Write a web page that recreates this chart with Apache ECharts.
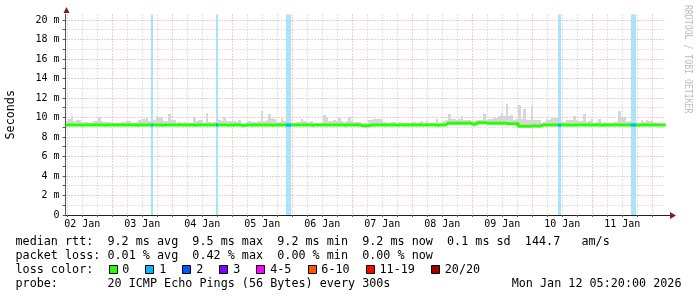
<!DOCTYPE html>
<html><head><meta charset="utf-8">
<script src="https://cdn.jsdelivr.net/npm/echarts@6/dist/echarts.min.js"></script>
<style>html,body{margin:0;padding:0;background:#fff}#c{width:697px;height:297px}</style>
</head><body><div id="c"></div>
<script>
// time axis in hours after 02 Jan 2026 00:00
const START_HOUR = 5 + 20 / 60;
const BINS = 240;
const END_HOUR = START_HOUR + BINS;
const Y_MAX = 20.564;

const dayLabels = ['02 Jan','03 Jan','04 Jan','05 Jan','06 Jan','07 Jan','08 Jan','09 Jan','10 Jan','11 Jan'];
const yLabelValues = [0,2,4,6,8,10,12,14,16,18,20];
const yLabels = ['0','2 m','4 m','6 m','8 m','10 m','12 m','14 m','16 m','18 m','20 m'];

// hourly smoke top (ms)
const smokeHi = [
 9.6,9.85,10.15,9.65,9.75,9.7,9.57,9.5,9.5,9.4,9.4,9.6,9.65,10.0,9.6,9.57,9.57,9.55,9.4,9.4,9.45,9.45,9.5,9.55,
 9.65,9.6,9.45,9.45,9.5,9.75,9.85,9.8,10.0,9.6,9.7,9.75,10.15,10.1,10.05,9.65,9.65,10.35,9.75,9.7,9.45,9.5,9.45,9.55,
 9.4,9.4,9.45,10.0,9.65,9.7,9.7,9.4,10.5,9.5,9.45,9.5,9.6,9.75,9.6,10.1,9.6,9.6,9.65,9.6,9.55,9.75,9.35,9.35,
 9.55,9.6,9.55,9.5,9.55,9.6,10.65,9.65,9.7,10.35,9.9,9.8,9.55,9.55,10.1,9.6,9.6,9.6,9.5,9.45,9.5,9.5,9.8,9.6,
 9.55,9.55,9.6,9.45,9.4,9.45,9.4,10.25,10.0,9.65,9.6,9.7,9.6,9.9,9.6,9.55,9.6,10.05,9.6,9.55,9.5,9.55,9.4,9.45,
 9.4,9.75,9.75,9.85,9.85,9.8,9.8,9.55,9.45,9.4,9.55,9.5,9.45,9.5,9.45,9.4,9.4,9.45,9.55,9.5,9.45,9.5,9.6,9.4,
 9.6,9.4,9.45,9.4,9.85,9.4,9.45,9.65,9.7,10.35,9.85,9.8,9.75,9.8,10.15,9.7,9.7,9.75,9.6,9.6,9.7,9.7,9.75,10.35,
 9.75,9.8,9.8,9.9,9.9,10.15,10.5,10.2,11.38,10.2,10.3,9.75,9.8,11.3,9.8,10.85,9.75,9.75,11.15,9.75,9.7,9.7,9.45,9.5,
 9.8,9.75,10.0,9.95,9.9,9.6,9.55,9.5,9.7,9.75,9.7,10.15,9.7,9.65,9.65,10.35,9.55,9.6,9.8,9.45,9.5,9.8,9.45,9.5,
 9.45,9.4,9.45,9.5,9.5,10.7,10.1,10.05,9.55,9.6,9.6,9.6,9.5,9.45,9.75,9.5,9.7,9.65,9.6,9.55,9.4,9.4,9.35,9.4
];
// hourly smoke bottom (ms)
const smokeLo = [
 9.12,9.12,9.1,9.12,9.12,9.1,9.12,9.12,9.12,9.1,9.12,9.12,9.12,9.1,9.12,9.12,9.12,9.12,9.1,9.12,9.12,9.12,9.1,9.12,
 9.12,9.1,9.12,9.12,9.12,9.12,9.1,9.12,9.12,9.1,9.12,9.12,9.12,9.12,9.1,9.12,9.12,9.12,9.1,9.12,9.12,9.12,9.12,9.1,
 9.12,9.12,9.1,9.12,9.12,9.12,9.1,9.12,9.12,9.12,9.1,9.12,9.12,9.12,9.1,9.12,9.12,9.12,9.12,9.1,9.12,9.12,9.0,9.02,
 9.1,9.12,9.05,9.12,9.12,9.1,9.12,9.12,9.12,9.1,9.12,9.12,9.12,9.12,9.1,9.12,9.12,9.12,9.12,9.1,9.12,9.12,9.12,9.1,
 9.12,9.12,9.1,9.12,9.12,9.12,9.1,9.12,9.12,9.12,9.12,9.1,9.12,9.12,9.12,9.1,9.12,9.12,9.12,9.12,9.1,9.12,9.05,9.05,
 9.05,9.12,9.12,9.1,9.12,9.12,9.12,9.1,9.12,9.12,9.12,9.12,9.1,9.12,9.12,9.12,9.1,9.12,9.12,9.12,9.12,9.1,9.12,9.12,
 9.12,9.12,9.1,9.12,9.12,9.12,9.1,9.12,9.3,9.32,9.32,9.3,9.32,9.32,9.3,9.32,9.32,9.3,9.2,9.22,9.32,9.32,9.3,9.32,
 9.32,9.3,9.32,9.32,9.3,9.32,9.32,9.3,9.25,9.25,9.25,9.25,9.28,9.0,9.0,8.98,9.0,9.0,9.02,9.05,9.05,9.05,9.12,9.1,
 9.12,9.12,9.1,9.12,9.12,9.12,9.1,9.12,9.12,9.12,9.12,9.1,9.12,9.12,9.12,9.1,9.12,9.12,9.12,9.12,9.1,9.12,9.12,9.12,
 9.1,9.12,9.12,9.12,9.12,9.1,9.12,9.12,9.12,9.1,9.12,9.12,9.12,9.12,9.1,9.12,9.12,9.12,9.12,9.1,9.12,9.12,9.12,9.1
];
// hourly median rtt (ms)
const median = [
 9.22,9.22,9.22,9.23,9.22,9.22,9.21,9.22,9.22,9.22,9.22,9.23,9.22,9.22,9.22,9.21,9.22,9.22,9.22,9.22,9.23,9.22,9.22,9.22,
 9.22,9.22,9.22,9.22,9.21,9.22,9.22,9.22,9.23,9.22,9.22,9.22,9.22,9.22,9.21,9.22,9.22,9.22,9.22,9.22,9.23,9.22,9.22,9.22,
 9.22,9.22,9.22,9.21,9.22,9.22,9.22,9.22,9.23,9.22,9.22,9.22,9.22,9.22,9.22,9.22,9.21,9.22,9.22,9.22,9.22,9.22,9.2,9.2,
 9.22,9.22,9.22,9.22,9.22,9.23,9.22,9.22,9.22,9.22,9.21,9.22,9.22,9.22,9.22,9.22,9.22,9.22,9.22,9.23,9.22,9.22,9.22,9.22,
 9.22,9.22,9.21,9.22,9.22,9.22,9.22,9.22,9.22,9.23,9.22,9.22,9.22,9.22,9.22,9.21,9.22,9.22,9.22,9.22,9.22,9.22,9.16,9.16,
 9.16,9.2,9.22,9.22,9.22,9.22,9.22,9.23,9.22,9.22,9.22,9.22,9.21,9.22,9.22,9.22,9.22,9.22,9.22,9.22,9.23,9.22,9.22,9.22,
 9.22,9.22,9.22,9.22,9.21,9.22,9.22,9.22,9.42,9.42,9.42,9.43,9.42,9.42,9.42,9.41,9.42,9.42,9.32,9.32,9.45,9.45,9.45,9.45,
 9.42,9.42,9.42,9.42,9.43,9.42,9.42,9.42,9.36,9.36,9.36,9.36,9.4,9.1,9.1,9.1,9.1,9.1,9.14,9.14,9.14,9.14,9.22,9.22,
 9.22,9.22,9.22,9.22,9.23,9.22,9.22,9.22,9.22,9.21,9.22,9.22,9.22,9.22,9.22,9.22,9.23,9.22,9.22,9.22,9.22,9.22,9.21,9.22,
 9.22,9.22,9.22,9.22,9.22,9.22,9.23,9.22,9.22,9.22,9.22,9.22,9.21,9.22,9.22,9.22,9.22,9.22,9.22,9.22,9.22,9.23,9.22,9.22
];
// hours (bin index) with packet loss, and number of lost pings of 20
const lossBins = [34, 60, 88, 89, 197, 226, 227];
const lossCounts = [1, 1, 1, 1, 1, 1, 1];

const lossLabels = ['0','1','2','3','4-5','6-10','11-19','20/20'];
const lossColors = ['#26ff00','#00b8ff','#0059ff','#7e00ff','#ff00ff','#ff5500','#ff0000','#a10000'];
const lossBgColors = ['#ffffff','#aae4f8','#a6c4fa','#cfa8fa','#fba8fb','#fbc2a8','#fba8a8','#deabab'];
const lossThresholds = [0,1,2,3,5,10,19,20];

const legendLine1 = 'median rtt:  9.2 ms avg  9.5 ms max  9.2 ms min  9.2 ms now  0.1 ms sd  144.7   am/s';
const legendLine2 = 'packet loss: 0.01 % avg  0.42 % max  0.00 % min  0.00 % now';
const legendLine3 = 'loss color:';
const legendLine4 = 'probe:       20 ICMP Echo Pings (56 Bytes) every 300s';
const legendDate = 'Mon Jan 12 05:20:00 2026';
const yAxisName = 'Seconds';
const watermark = 'RRDTOOL / TOBI OETIKER';

function lossIndex(c) { for (let k = 0; k < lossThresholds.length; k++) if (c <= lossThresholds[k]) return k; return 7; }

const MONO = "'DejaVu Sans Mono', monospace";
const FS = 11.75;
const CW = FS * 0.602;

const smokeData = smokeHi.map((h, i) => [START_HOUR + i, smokeLo[i], h]);
const medianData = median.map((m, i) => [START_HOUR + i, m]);
medianData.push([END_HOUR, median[median.length - 1]]);
const lossData = lossBins.map((b, k) => [START_HOUR + b, median[b], lossCounts[k]]);

const minorX = []; for (let h = 6; h <= 240; h += 6) minorX.push(h);
const labelX = dayLabels.map((d, k) => 12 + 24 * k);
const yTicks = []; for (let v = 0; v <= 20; v++) yTicks.push(v);

const chart = echarts.init(document.getElementById('c'), null, {renderer: 'canvas'});

const graphics = [];
const L_X = 15.5;
[[legendLine1, 241.5], [legendLine2, 255.5], [legendLine3, 269.5], [legendLine4, 283.5]].forEach(([t, y]) => {
  graphics.push({type: 'text', x: L_X, y: y, style: {text: t, font: FS + 'px ' + MONO, fill: '#000', verticalAlign: 'middle', align: 'left'}});
});
graphics.push({type: 'text', x: 681.5, y: 283.5, style: {text: legendDate, font: FS + 'px ' + MONO, fill: '#000', verticalAlign: 'middle', align: 'right'}});
let sx = 108.5;
lossLabels.forEach((lab, k) => {
  graphics.push({type: 'rect', shape: {x: Math.round(sx) + 0.5, y: 265.5, width: 8, height: 8}, style: {fill: lossColors[k], stroke: '#000', lineWidth: 1}});
  graphics.push({type: 'text', x: sx + 14.3 - 0.5, y: 269.5, style: {text: lab, font: FS + 'px ' + MONO, fill: '#000', verticalAlign: 'middle', align: 'left'}});
  sx += 14.3 + lab.length * CW + 15.6;
});
// watermark
graphics.push({type: 'text', x: 688, y: 5, rotation: -Math.PI / 2, scaleX: 0.78, style: {text: watermark, font: '10.5px ' + MONO, fill: '#bdbdbd', verticalAlign: 'middle', align: 'left'}});
// axis arrows
graphics.push({type: 'polygon', shape: {points: [[63.5, 13], [69.5, 13], [66.5, 7]]}, style: {fill: '#7f1f1f'}});
graphics.push({type: 'line', shape: {x1: 665, y1: 215.5, x2: 671, y2: 215.5}, style: {stroke: '#1f1f1f', lineWidth: 1}});
graphics.push({type: 'polygon', shape: {points: [[670, 212], [670, 219], [676, 215.5]]}, style: {fill: '#7f1f1f'}});

const option = {
  animation: false,
  backgroundColor: '#ffffff',
  grid: {left: 65.6, top: 14.5, width: 600, height: 200.5, containLabel: false, outerBoundsMode: 'none'},
  xAxis: {
    type: 'value', min: START_HOUR, max: END_HOUR,
    axisLine: {show: true, lineStyle: {color: '#1f1f1f', width: 1}},
    axisTick: {show: true, customValues: minorX, length: 2, lineStyle: {color: '#555'}},
    axisLabel: {show: true, customValues: labelX, margin: 4, fontFamily: MONO, fontSize: 10, color: '#000',
      formatter: v => dayLabels[Math.round((v - 12) / 24)]},
    splitLine: {show: true, lineStyle: {color: ['#c4c4c4', '#c4c4c4', '#c4c4c4', '#eb9898'], type: [1, 2], width: 1}}
  },
  yAxis: {
    type: 'value', min: 0, max: Y_MAX,
    name: yAxisName, nameLocation: 'middle', nameRotate: 90, nameGap: 49,
    nameTextStyle: {fontFamily: MONO, fontSize: FS, color: '#000'},
    axisLine: {show: true, lineStyle: {color: '#555', width: 1}},
    axisTick: {show: true, customValues: yTicks, length: 3, lineStyle: {color: '#555'}},
    axisLabel: {show: true, customValues: yLabelValues, margin: 6, fontFamily: MONO, fontSize: 10, color: '#000',
      formatter: v => yLabels[yLabelValues.indexOf(Math.round(v))]},
    splitLine: {show: true, lineStyle: {color: ['#eb9898', '#c4c4c4'], type: [1, 2], width: 1}}
  },
  series: [
    {
      type: 'custom', name: 'smoke', z: 2, data: smokeData, silent: true,
      renderItem: (params, api) => {
        const x0 = api.value(0), lo = api.value(1), hi = api.value(2);
        const p1 = api.coord([x0, hi]), p2 = api.coord([x0 + 1, lo]);
        const x1 = Math.round(p1[0]), x2 = Math.round(Math.min(p2[0], api.coord([END_HOUR, 0])[0]));
        const y1 = Math.round(p1[1]), y2 = Math.round(p2[1]);
        return {type: 'rect', shape: {x: x1, y: y1, width: x2 - x1, height: y2 - y1}, style: {fill: '#d7d7d7'}};
      }
    },
    {
      type: 'custom', name: 'lossbg', z: 3, data: lossData, silent: true,
      renderItem: (params, api) => {
        const x0 = api.value(0), c = api.value(2);
        const p1 = api.coord([x0, Y_MAX]), p2 = api.coord([x0 + 1, 0]);
        const x1 = Math.round(p1[0]), x2 = Math.round(p2[0]);
        return {type: 'rect', shape: {x: x1, y: p1[1], width: x2 - x1, height: p2[1] - p1[1]}, style: {fill: lossBgColors[lossIndex(c)]}};
      }
    },
    {
      type: 'line', name: 'median', z: 4, data: medianData, step: 'end', symbol: 'none', silent: true,
      lineStyle: {color: '#26ff00', width: 3}
    },
    {
      type: 'custom', name: 'lossmedian', z: 5, data: lossData, silent: true,
      renderItem: (params, api) => {
        const x0 = api.value(0), m = api.value(1), c = api.value(2);
        const p1 = api.coord([x0, m]), p2 = api.coord([x0 + 1, m]);
        const x1 = Math.round(p1[0]), x2 = Math.round(p2[0]);
        return {type: 'rect', shape: {x: x1, y: p1[1] - 1.5, width: x2 - x1, height: 3}, style: {fill: lossColors[lossIndex(c)]}};
      }
    }
  ],
  graphic: graphics
};
chart.setOption(option);
</script>
</body></html>
